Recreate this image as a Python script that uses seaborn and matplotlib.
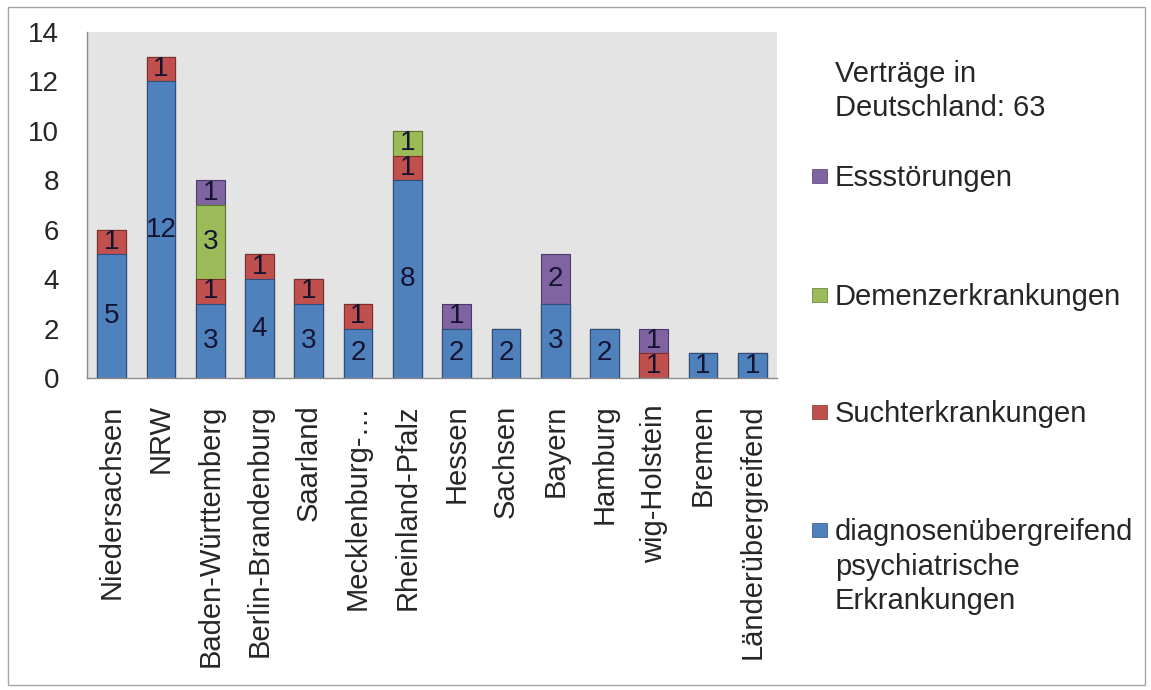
"""Verträge nach Bundesland und Diagnosegruppe als gestapeltes Säulendiagramm."""

import matplotlib

matplotlib.use("Agg")
import matplotlib.pyplot as plt
import numpy as np
import seaborn as sns
from matplotlib.patches import Rectangle

REGIONEN = [
    "Niedersachsen", "NRW", "Baden-Württemberg", "Berlin-Brandenburg",
    "Saarland", "Mecklenburg-…", "Rheinland-Pfalz", "Hessen", "Sachsen",
    "Bayern", "Hamburg", "wig-Holstein", "Bremen", "Länderübergreifend",
]
DIAGNOSENUEBERGREIFEND = [5, 12, 3, 4, 3, 2, 8, 2, 2, 3, 2, 0, 1, 1]
SUCHT = [1, 1, 1, 1, 1, 1, 1, 0, 0, 0, 0, 1, 0, 0]
DEMENZ = [0, 0, 3, 0, 0, 0, 1, 0, 0, 0, 0, 0, 0, 0]
ESS = [0, 0, 1, 0, 0, 0, 0, 1, 0, 2, 0, 1, 0, 0]

SERIEN = [
    ("diagnosenübergreifend\npsychiatrische\nErkrankungen", DIAGNOSENUEBERGREIFEND, "#4F81BD", "#2E4F7A"),
    ("Suchterkrankungen", SUCHT, "#C0504D", "#7F2E2C"),
    ("Demenzerkrankungen", DEMENZ, "#9BBB59", "#5E7A2E"),
    ("Essstörungen", ESS, "#8064A2", "#4E3A6A"),
]
LEGENDENTITEL = "Verträge in\nDeutschland: 63"

sns.set_style("white")
plt.rcParams["font.family"] = ["Liberation Sans", "DejaVu Sans"]

W, H = 1151, 690
fig = plt.figure(figsize=(W / 100, H / 100), dpi=100)
ax = fig.add_axes([87 / W, 1 - 378 / H, (777 - 87) / W, (378 - 32) / H])
ax.set_facecolor("#E4E4E4")

# kumulierte Summen von oben nach unten zeichnen, damit die Stapel entstehen
werte = np.array([s[1] for s in SERIEN], dtype=float)
kumuliert = np.cumsum(werte, axis=0)
for i in range(len(SERIEN) - 1, -1, -1):
    _, _, farbe, rand = SERIEN[i]
    sns.barplot(
        x=REGIONEN, y=kumuliert[i], order=REGIONEN, color=farbe,
        saturation=1, width=0.58, edgecolor=rand, linewidth=0.8, ax=ax,
    )

# Werte in die Segmente schreiben
for i in range(len(SERIEN)):
    unten = kumuliert[i] - werte[i]
    for j, v in enumerate(werte[i]):
        if v > 0:
            ax.text(j, unten[j] + v / 2, f"{int(v)}", ha="center", va="center",
                    fontsize=20, color="#141432")

ax.set_xlim(-0.5, len(REGIONEN) - 0.5)
ax.set_ylim(0, 14)
ax.set_yticks(range(0, 15, 2))
ax.set_xlabel("")
ax.set_ylabel("")
ax.tick_params(axis="y", length=0, pad=20, labelsize=20)
ax.tick_params(axis="x", length=0, pad=19, labelsize=21, rotation=90)
for lab in ax.get_xticklabels():
    lab.set_va("top")
for seite in ["top", "right"]:
    ax.spines[seite].set_visible(False)
for seite in ["left", "bottom"]:
    ax.spines[seite].set_color("#8C8C8C")
    ax.spines[seite].set_linewidth(1)

# Legende rechts, wie im Original manuell gesetzt
fig.text(835 / W, 1 - 60 / H, LEGENDENTITEL, fontsize=21, va="top", ha="left",
         linespacing=1.25)
legenden_mitte = [176, 295, 412, 530]
for (name, _, farbe, rand), c in zip(SERIEN[::-1], legenden_mitte):
    fig.patches.append(Rectangle((812 / W, 1 - (c + 7) / H), 15 / W, 14 / H,
                                 transform=fig.transFigure, facecolor=farbe,
                                 edgecolor=rand, linewidth=0.5))
    fig.text(835 / W, 1 - (c - 12) / H, name, fontsize=21, va="top", ha="left",
             linespacing=1.3)

# grauer Rahmen um das ganze Diagramm
fig.patches.append(Rectangle((8 / W, 1 - 685 / H), (1145 - 8) / W, (685 - 7) / H,
                             transform=fig.transFigure, fill=False,
                             edgecolor="#A6A6A6", linewidth=1))

fig.savefig("out.png", dpi=100)
